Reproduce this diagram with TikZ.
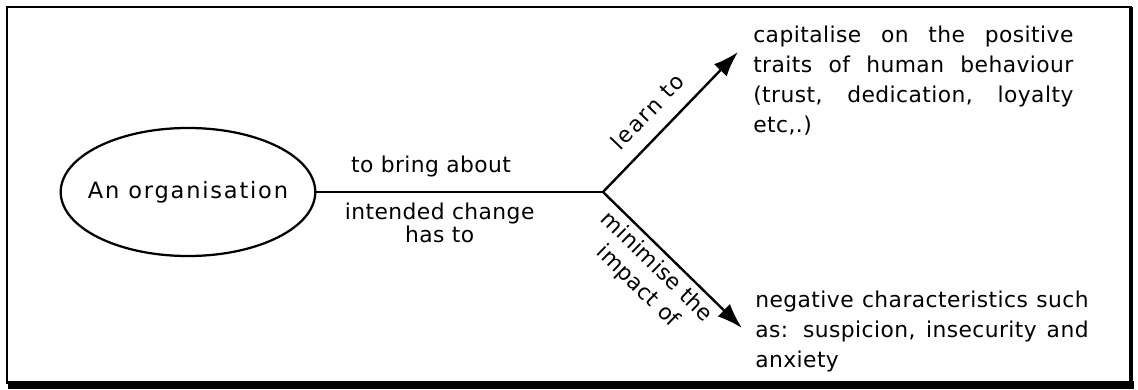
\documentclass[tikz,border=0pt]{standalone}
\usepackage{fontspec}
\usepackage{tikz}
\usetikzlibrary{shapes.geometric,arrows.meta,positioning}
\newfontfamily\mapfont[LetterSpace=2]{DejaVu Sans}
\newfontfamily\conceptfont[LetterSpace=8]{DejaVu Sans}
% one line set out to the full text width
\newcommand{\fullline}[1]{\makebox[\hsize][s]{\spaceskip=0pt\xspaceskip=0pt #1}}
\tikzset{mapfontsize/.style = {font=\mapfont\fontsize{15.5}{#1}\selectfont}}
\tikzset{conceptnode/.style = {draw,ellipse,line width=1.6pt,minimum width=6.33cm,minimum height=3.2cm,inner xsep=-0.25cm,inner ysep=0pt,font=\conceptfont\fontsize{16}{18}\selectfont}}
\tikzset{maplink/.style = {line width=1.7pt}}
\tikzset{maparrow/.style = {maplink,-{Latex[length=18pt,width=12.5pt]}}}
\tikzset{linklabel/.style = {inner sep=0pt,mapfontsize=16.5pt,align=center}}
\tikzset{maptext/.style = {inner sep=0pt,mapfontsize=21.3pt,align=left,anchor=north west,text width=#1}}

\begin{document}
\begin{tikzpicture}[x=0.025cm,y=0.025cm]
\useasboundingbox (0,0) rectangle (1138,389);
% frame, heavier on the right and at the foot
\draw[line width=1.4pt] (7,382) rectangle (1131,6);
\draw[line width=2.8pt] (1131,382) -- (1131,6);
\fill (8,0) rectangle (1134,8);

\node[conceptnode] (org) at (188,197) {An organisation};
\coordinate (fork) at (603,197);
\coordinate (uptip) at (738,337);
\coordinate (downtip) at (742,61);

\node[maptext=8cm] (pos) at (753,363) {\fullline{capitalise on the positive}\\
  \fullline{traits of human behaviour}\\
  \fullline{(trust, dedication, loyalty}\\
  etc,.)};
\node[maptext=8.33cm] (neg) at (755,98) {\fullline{negative characteristics such}\\
  \fullline{as: suspicion, insecurity and}\\
  anxiety};

\draw[maplink] (org) -- (fork)
  node[linklabel,pos=0.40,anchor=south,yshift=9.8pt] (bring) {to bring about}
  node[linklabel,pos=0.43,anchor=north,yshift=-6.6pt] (change) {intended change\\has to};
\draw[maparrow] (fork) -- (uptip)
  node[linklabel,font=\conceptfont\fontsize{15.5}{16.5}\selectfont,sloped,pos=0.457,yshift=0.6cm] (learn) {learn to};
\draw[maparrow] (fork) -- (downtip)
  node[linklabel,mapfontsize=19pt,sloped,pos=0.468,yshift=-0.75cm] (minim) {minimise the\\impact of};
\end{tikzpicture}
\end{document}
